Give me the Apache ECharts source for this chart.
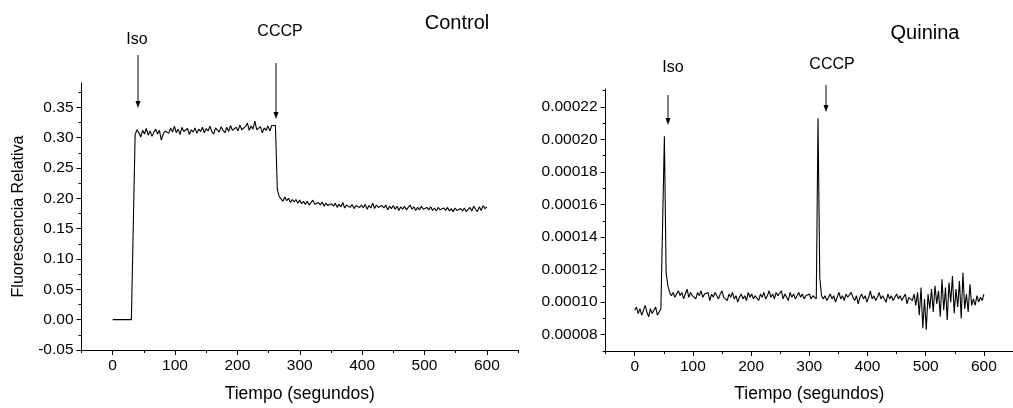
<!DOCTYPE html>
<html>
<head>
<meta charset="utf-8">
<script src="https://cdn.jsdelivr.net/npm/echarts@6/dist/echarts.min.js"></script>
<style>
  html, body { margin: 0; padding: 0; background: #fff; }
  #chart { width: 1013px; height: 408px; }
</style>
</head>
<body>
<div id="chart"></div>
<script>
// one reading every 3 s, starting at t = 0
var sampleStep = 3;

var controlValues = [
  0, 0, 0, 0, 0, 0, 0, 0, 0, 0, 0, 0,
  0.305, 0.313, 0.308, 0.301, 0.312, 0.306, 0.315, 0.304, 0.311, 0.302,
  0.309, 0.314, 0.306, 0.312, 0.296, 0.306, 0.311, 0.313, 0.307, 0.316,
  0.309, 0.319, 0.308, 0.314, 0.305, 0.317, 0.310, 0.308, 0.315, 0.305,
  0.313, 0.309, 0.316, 0.307, 0.314, 0.310, 0.317, 0.308, 0.315, 0.311,
  0.319, 0.310, 0.306, 0.316, 0.313, 0.309, 0.318, 0.312, 0.308, 0.317,
  0.310, 0.320, 0.312, 0.309, 0.317, 0.311, 0.321, 0.313, 0.310, 0.318,
  0.324, 0.312, 0.319, 0.314, 0.327, 0.313, 0.310, 0.318, 0.308, 0.316,
  0.312, 0.319, 0.311, 0.320, 0.321, 0.320,
  0.215, 0.203,
  0.199, 0.195, 0.202, 0.196, 0.200, 0.193, 0.198, 0.194, 0.198, 0.192,
  0.197, 0.191, 0.195, 0.190, 0.195, 0.189, 0.193, 0.197, 0.190, 0.188,
  0.193, 0.189, 0.194, 0.187, 0.192, 0.188, 0.186, 0.191, 0.187, 0.192,
  0.185, 0.190, 0.186, 0.193, 0.184, 0.189, 0.191, 0.185, 0.190, 0.183,
  0.188, 0.191, 0.185, 0.189, 0.184, 0.190, 0.182, 0.188, 0.184, 0.192,
  0.183, 0.189, 0.185, 0.182, 0.188, 0.184, 0.189, 0.181, 0.187, 0.183,
  0.188, 0.182, 0.187, 0.180, 0.186, 0.182, 0.187, 0.181, 0.185, 0.189,
  0.182, 0.186, 0.180, 0.185, 0.181, 0.187, 0.182, 0.179, 0.185, 0.181,
  0.186, 0.180, 0.184, 0.179, 0.185, 0.181, 0.178, 0.184, 0.180, 0.185,
  0.179, 0.183, 0.178, 0.184, 0.180, 0.177, 0.183, 0.179, 0.184, 0.178,
  0.181, 0.185, 0.179, 0.187, 0.182, 0.178, 0.186, 0.180, 0.188, 0.183,
  0.186
];

var quininaValues = [
  9.5e-5, 9.7e-5, 9.3e-5, 9.6e-5, 9.2e-5, 9.5e-5, 9.8e-5, 9.4e-5, 9.1e-5, 9.6e-5,
  9.3e-5, 9.5e-5, 9.7e-5, 9.2e-5, 9.4e-5, 9.6e-5, 9.5e-5,
  20.2e-5,
  11.8e-5, 11.0e-5, 10.6e-5,
  10.4e-5, 10.6e-5, 10.3e-5, 10.5e-5, 10.7e-5, 10.4e-5, 10.6e-5, 10.2e-5, 10.5e-5, 10.8e-5,
  10.3e-5, 10.6e-5, 10.4e-5, 10.5e-5, 10.2e-5, 10.6e-5, 10.4e-5, 10.7e-5, 10.3e-5, 10.5e-5,
  10.4e-5, 10.6e-5, 10.1e-5, 10.5e-5, 10.3e-5, 10.6e-5, 10.4e-5, 10.2e-5, 10.5e-5, 10.7e-5,
  10.3e-5, 10.4e-5, 10.1e-5, 10.5e-5, 10.3e-5, 10.6e-5, 10.2e-5, 10.4e-5, 10.0e-5, 10.3e-5,
  10.5e-5, 10.2e-5, 10.4e-5, 10.1e-5, 10.6e-5, 10.3e-5, 10.5e-5, 10.2e-5, 10.4e-5, 10.3e-5,
  10.1e-5, 10.5e-5, 10.3e-5, 10.6e-5, 10.2e-5, 10.4e-5, 10.7e-5, 10.3e-5, 10.5e-5, 10.2e-5,
  10.6e-5, 10.4e-5, 10.3e-5, 10.7e-5, 10.2e-5, 10.5e-5, 10.4e-5, 10.1e-5, 10.6e-5, 10.3e-5,
  10.5e-5, 10.2e-5, 10.4e-5, 10.6e-5, 10.3e-5, 10.5e-5, 10.2e-5, 10.4e-5, 10.3e-5, 10.5e-5,
  10.2e-5, 10.4e-5, 10.3e-5, 10.2e-5,
  21.3e-5,
  11.5e-5, 10.4e-5,
  10.2e-5, 10.4e-5, 10.1e-5, 10.3e-5, 10.5e-5, 10.2e-5, 10.4e-5, 10.0e-5, 10.3e-5, 10.6e-5,
  10.2e-5, 10.4e-5, 10.1e-5, 10.5e-5, 10.3e-5, 10.2e-5, 10.6e-5, 10.3e-5, 10.1e-5, 10.4e-5,
  9.9e-5, 10.3e-5, 10.5e-5, 10.2e-5, 10.4e-5, 10.0e-5, 10.3e-5, 10.7e-5, 10.2e-5, 10.4e-5,
  10.1e-5, 10.3e-5, 10.6e-5, 10.2e-5, 10.4e-5, 10.3e-5, 10.0e-5, 10.5e-5, 10.2e-5, 10.4e-5,
  10.1e-5, 10.3e-5, 10.5e-5, 10.2e-5, 10.4e-5, 10.1e-5, 10.3e-5, 10.5e-5, 9.9e-5, 10.3e-5,
  10.4e-5, 10.1e-5, 10.5e-5,
  9.8e-5, 10.6e-5, 9.2e-5, 10.9e-5, 8.4e-5, 10.2e-5, 8.3e-5, 10.5e-5, 9.6e-5, 10.8e-5,
  9.4e-5, 11.0e-5, 9.9e-5, 10.7e-5, 9.1e-5, 11.4e-5, 9.5e-5, 10.9e-5, 8.9e-5, 11.2e-5,
  10.0e-5, 11.6e-5, 9.3e-5, 10.8e-5, 9.7e-5, 11.3e-5, 9.0e-5, 11.8e-5, 9.6e-5, 10.5e-5,
  9.4e-5, 11.1e-5, 9.8e-5,
  10.2e-5, 9.8e-5, 10.4e-5, 10.0e-5, 10.3e-5, 10.1e-5, 10.5e-5
];

var timeTicks = [0, 100, 200, 300, 400, 500, 600];
var timeMinorTicks = [-50, 50, 150, 250, 350, 450, 550, 650];
var controlTicks = [-0.05, 0, 0.05, 0.10, 0.15, 0.20, 0.25, 0.30, 0.35];
var controlMinorTicks = [-0.025, 0.025, 0.075, 0.125, 0.175, 0.225, 0.275, 0.325, 0.375];
var quininaTicks = [0.00008, 0.00010, 0.00012, 0.00014, 0.00016, 0.00018, 0.00020, 0.00022];
var quininaMinorTicks = [0.00007, 0.00009, 0.00011, 0.00013, 0.00015, 0.00017, 0.00019, 0.00021, 0.00023];

function toPairs(values) {
  return values.map(function (v, i) { return [i * sampleStep, v]; });
}

var font = 'Liberation Sans, Arial, sans-serif';

function majorAxis(grid, pos, min, max, ticks, fmt, extra) {
  var ax = {
    type: 'value',
    gridIndex: grid,
    position: pos,
    min: min,
    max: max,
    axisLine: { show: true, onZero: false, lineStyle: { color: '#000', width: 1 } },
    axisTick: { show: true, customValues: ticks, length: 5, lineStyle: { color: '#000' } },
    axisLabel: {
      customValues: ticks, color: '#000', fontSize: 15.5, fontFamily: font, margin: 8,
      formatter: fmt
    },
    splitLine: { show: false }
  };
  for (var k in extra) ax[k] = extra[k];
  return ax;
}

function minorAxis(grid, pos, min, max, ticks) {
  return {
    type: 'value',
    gridIndex: grid,
    position: pos,
    min: min,
    max: max,
    axisLine: { show: false, onZero: false },
    axisTick: { show: true, customValues: ticks, length: 3, lineStyle: { color: '#000' } },
    axisLabel: { show: false },
    splitLine: { show: false }
  };
}

function arrow(x, y1, y2) {
  return {
    type: 'group',
    children: [
      { type: 'line', shape: { x1: x, y1: y1, x2: x, y2: y2 - 5 }, style: { stroke: '#000', lineWidth: 1 } },
      { type: 'polygon', shape: { points: [[x - 2.5, y2 - 7], [x + 2.5, y2 - 7], [x, y2]] }, style: { fill: '#000' } }
    ]
  };
}

function label(text, x, y, size) {
  return {
    type: 'text', x: x, y: y,
    style: { text: text, fontSize: size, fontFamily: font, fill: '#000', align: 'center', verticalAlign: 'middle' }
  };
}

var myChart = echarts.init(document.getElementById('chart'));

myChart.setOption({
  animation: false,
  backgroundColor: '#fff',
  grid: [
    { left: 81.5, top: 83, width: 436.5, height: 273 },
    { left: 605.6, top: 89, width: 411.7, height: 263 }
  ],
  xAxis: [
    majorAxis(0, 'bottom', -50, 650, timeTicks, function (v) { return String(v); }, {
      name: 'Tiempo (segundos)', nameLocation: 'middle', nameGap: 35,
      nameTextStyle: { color: '#000', fontSize: 17.5, fontFamily: font }
    }),
    minorAxis(0, 'bottom', -50, 650, timeMinorTicks),
    majorAxis(1, 'bottom', -50, 650, timeTicks, function (v) { return String(v); }, {
      name: 'Tiempo (segundos)', nameLocation: 'middle', nameGap: 34,
      nameTextStyle: { color: '#000', fontSize: 17.5, fontFamily: font }
    }),
    minorAxis(1, 'bottom', -50, 650, timeMinorTicks)
  ],
  yAxis: [
    majorAxis(0, 'left', -0.05, 0.39, controlTicks, function (v) { return v.toFixed(2); }, {
      name: 'Fluorescencia Relativa', nameLocation: 'middle', nameGap: 55,
      nameTextStyle: { color: '#000', fontSize: 16, fontFamily: font }
    }),
    minorAxis(0, 'left', -0.05, 0.39, controlMinorTicks),
    majorAxis(1, 'left', 0.00007, 0.000231, quininaTicks, function (v) { return v.toFixed(5); }, {}),
    minorAxis(1, 'left', 0.00007, 0.000231, quininaMinorTicks)
  ],
  graphic: [
    label('Control', 457, 23, 20),
    label('Quinina', 925, 33, 20),
    label('Iso', 137, 40, 16),
    label('CCCP', 280, 32, 16),
    label('Iso', 673, 68, 16),
    label('CCCP', 832, 65, 16),
    arrow(138, 55, 108),
    arrow(276, 63, 119),
    arrow(668, 95, 125),
    arrow(826, 85, 112)
  ],
  series: [
    {
      name: 'Control', type: 'line', xAxisIndex: 0, yAxisIndex: 0,
      showSymbol: false, symbol: 'none',
      lineStyle: { color: '#000', width: 1.1 },
      data: toPairs(controlValues)
    },
    {
      name: 'Quinina', type: 'line', xAxisIndex: 2, yAxisIndex: 2,
      showSymbol: false, symbol: 'none',
      lineStyle: { color: '#000', width: 1.1 },
      data: toPairs(quininaValues)
    }
  ]
});
</script>
</body>
</html>
